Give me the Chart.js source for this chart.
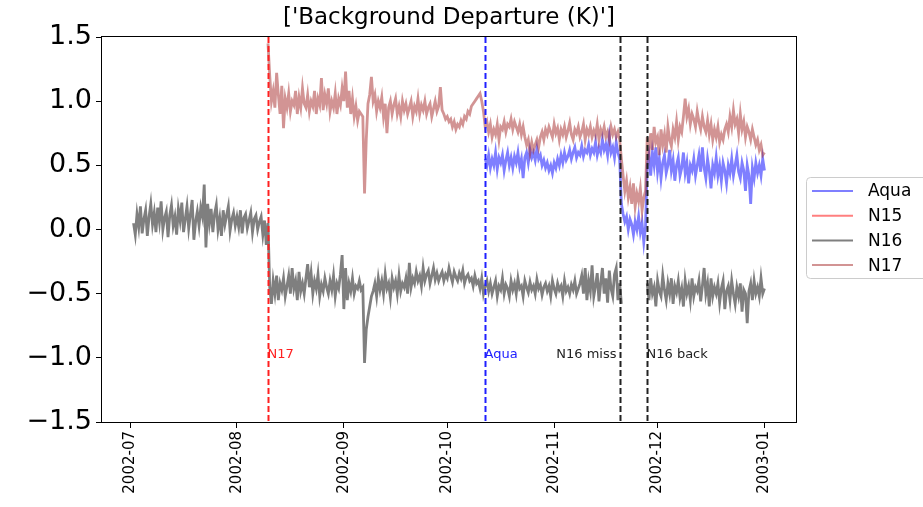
<!DOCTYPE html>
<html>
<head>
<meta charset="utf-8">
<script src="https://cdn.jsdelivr.net/npm/chart.js@4.4.0/dist/chart.umd.min.js"></script>
<style>
  body { margin: 0; background: #fff; }
</style>
</head>
<body>
<canvas id="chart" width="923" height="507"></canvas>
<script>
const titleText = "['Background Departure (K)']";
const monthLabels = ['2002-07', '2002-08', '2002-09', '2002-10', '2002-11', '2002-12', '2003-01'];
const yTicks = [-1.5, -1.0, -0.5, 0.0, 0.5, 1.0, 1.5];

// 12-hourly values, first value at 00Z on the start date (null = no data)
const stepDays = 0.5;

const n16Start = '2002-07-02';
const n16Values = [
  0.05, -0.04, 0.12, 0.02, 0.18, -0.03, 0.08, 0.15, -0.05, 0.1, 0.2, 0.04, 0.13, -0.02, 0.17, 0.06, 0.22, 0.0, 0.09, 0.14,
  -0.06, 0.11, 0.19, 0.03, 0.1, -0.04, 0.16, 0.07, 0.21, -0.02, 0.08, 0.18, 0.01, 0.12, 0.23, -0.08, 0.06, 0.14, 0.03, 0.17,
  0.1, 0.35, -0.14, 0.2, 0.05, 0.16, -0.02, 0.12, 0.19, 0.0, 0.09, -0.05, 0.15, 0.04, 0.11, 0.18, -0.01, 0.08, 0.13, 0.03,
  0.1, 0.02, 0.15, -0.03, 0.09, 0.12, 0.01, 0.07, 0.13, -0.02, 0.08, 0.11, 0.0, 0.06, 0.1, -0.04, 0.07, -0.12, 0.05, -0.45,
  -0.58, -0.4, -0.5, -0.36, -0.55, -0.42, -0.47, -0.38, -0.52, -0.44, -0.36, -0.5, -0.3, -0.46, -0.4, -0.55, -0.33, -0.48, -0.42, -0.5,
  -0.38, -0.27, -0.45, -0.34, -0.5, -0.4, -0.46, -0.35, -0.52, -0.43, -0.48, -0.38, -0.45, -0.5, -0.4, -0.47, -0.36, -0.52, -0.42, -0.46,
  -0.35, -0.2, -0.62, -0.3, -0.55, -0.42, -0.48, -0.38, -0.5, -0.44, -0.46, -0.4, -0.47, -0.45, -1.04, -0.78, -0.68, -0.6, -0.52, -0.48,
  -0.42, -0.52, -0.38, -0.47, -0.4, -0.5, -0.35, -0.46, -0.42, -0.53, -0.38, -0.45, -0.4, -0.5, -0.36, -0.48, -0.42, -0.45, -0.38, -0.5,
  -0.26, -0.45, -0.38, -0.42, -0.33, -0.4, -0.36, -0.44, -0.3, -0.4, -0.35, -0.32, -0.42, -0.36, -0.3, -0.39, -0.34, -0.4, -0.36, -0.33,
  -0.4, -0.35, -0.38, -0.3, -0.36, -0.41, -0.33, -0.37, -0.4, -0.34, -0.38, -0.32, -0.42, -0.37, -0.35, -0.4, -0.38, -0.44, -0.36, -0.42,
  -0.4, -0.46, -0.38, -0.5, -0.44, -0.4, -0.48, -0.42, -0.5, -0.45, -0.4, -0.52, -0.44, -0.47, -0.38, -0.5, -0.43, -0.46, -0.52, -0.4,
  -0.47, -0.42, -0.5, -0.38, -0.46, -0.44, -0.52, -0.4, -0.45, -0.49, -0.41, -0.47, -0.44, -0.5, -0.39, -0.46, -0.43, -0.51, -0.45, -0.42,
  -0.48, -0.44, -0.52, -0.4, -0.46, -0.5, -0.42, -0.47, -0.44, -0.52, -0.4, -0.48, -0.45, -0.5, -0.43, -0.47, -0.4, -0.5, -0.46, -0.42,
  -0.36, -0.5, -0.3, -0.55, -0.4, -0.48, -0.28, -0.52, -0.44, -0.34, -0.56, -0.42, -0.3, -0.5, -0.38, -0.57, -0.32, -0.46, -0.52, -0.35,
  -0.3, -0.55, -0.42, -0.58,
  null, null, null, null, null, null, null, null, null, null, null, null, null, null,
  -0.42, -0.55, -0.38, -0.5, -0.45, -0.6, -0.4, -0.48, -0.52, -0.36, -0.47, -0.55, -0.42, -0.5, -0.38, -0.58, -0.44, -0.49, -0.4, -0.53,
  -0.46, -0.6, -0.4, -0.5, -0.44, -0.55, -0.38, -0.52, -0.45, -0.48, -0.4, -0.56, -0.44, -0.3, -0.5, -0.42, -0.6, -0.38, -0.52, -0.45,
  -0.5, -0.42, -0.57, -0.46, -0.4, -0.62, -0.48, -0.44, -0.55, -0.4, -0.5, -0.58, -0.45, -0.52, -0.42, -0.64, -0.47, -0.5, -0.73, -0.48,
  -0.42, -0.55, -0.4, -0.5, -0.45, -0.52, -0.38, -0.5, -0.46
];

const n17Start = '2002-08-10';
const n17Values = [
  1.45, 1.2,
  1.0, 1.08, 0.95, 1.22, 1.05, 0.9, 1.12, 0.79, 1.02, 0.95, 1.06, 0.92, 1.0, 0.97, 1.08, 0.9, 1.03, 0.95, 1.1, 0.98,
  0.95, 1.05, 0.92, 1.0, 0.96, 1.08, 0.9, 1.02, 0.97, 1.18, 0.93, 1.05, 0.98, 1.1, 0.92, 1.0, 0.95, 1.06, 0.9, 1.02,
  0.97, 1.1, 1.0, 1.23, 0.95, 1.08, 0.9, 1.02, 0.88, 0.96, 0.85, 0.92, 0.9, 0.88, 0.28, 0.7, 0.98, 1.05, 1.19, 1.0,
  1.05, 0.92, 1.0, 0.95, 1.03, 0.88, 0.98, 0.75, 0.95, 1.0, 0.9, 0.97, 1.02, 0.9, 0.96, 0.88, 1.0, 0.93, 0.98, 0.9,
  0.95, 1.0, 0.88, 0.96, 0.92, 1.02, 0.9, 0.97, 0.93, 1.0, 0.9, 0.95, 0.98, 0.88, 0.94, 1.0, 0.92, 0.96, 1.11, 0.93,
  0.9, 0.86, 0.88, 0.84, 0.86, 0.8, 0.84, 0.78, 0.82, 0.8, 0.85, 0.82, 0.88, 0.86, 0.92, 0.9, 0.96, 0.98, 1.0, 1.02,
  1.04, 1.06, 1.0, 0.92, 0.8, 0.84, 0.76, 0.82, 0.72, 0.78, 0.74, 0.82, 0.7, 0.8, 0.78, 0.84, 0.76, 0.82, 0.8, 0.86,
  0.78, 0.84, 0.8, 0.76, 0.82, 0.74, 0.8, 0.72, 0.66, 0.7, 0.6, 0.68, 0.62, 0.66, 0.7, 0.64, 0.72, 0.76, 0.7, 0.78,
  0.74, 0.8, 0.76, 0.72, 0.82, 0.75, 0.79, 0.7, 0.78, 0.74, 0.8, 0.72, 0.77, 0.83, 0.74, 0.7, 0.78, 0.75, 0.8, 0.72,
  0.76, 0.82, 0.7, 0.78, 0.74, 0.8, 0.72, 0.77, 0.73, 0.82, 0.7, 0.78, 0.74, 0.8, 0.72, 0.76, 0.7, 0.8, 0.74, 0.78,
  0.72, 0.76, 0.7, 0.55, 0.42, 0.3, 0.38, 0.25, 0.33, 0.2, 0.36, 0.18, 0.28, 0.22, 0.32, 0.15, 0.25, 0.3, 0.72, 0.6,
  0.75, 0.62, 0.8, 0.68, 0.72, 0.58, 0.78, 0.66, 0.74, 0.6, 0.8, 0.7, 0.65, 0.78, 0.72, 0.84, 0.7, 0.8, 0.76, 0.88,
  1.02, 0.88, 0.94, 0.82, 0.9, 0.86, 0.8, 0.92, 0.84, 0.78, 0.88, 0.8, 0.76, 0.85, 0.74, 0.82, 0.7, 0.78, 0.72, 0.8,
  0.68, 0.74, 0.7, 0.78, 0.82, 0.76, 0.88, 0.8, 0.93, 0.82, 0.86, 0.75, 0.9, 0.78, 0.84, 0.72, 0.8, 0.76, 0.7, 0.78,
  0.72, 0.66, 0.7, 0.62, 0.66, 0.58, 0.6
];

const aquaStart = '2002-10-12';
const aquaValues = [
  0.55, 0.5,
  0.58, 0.48, 0.55, 0.5, 0.6, 0.47, 0.56, 0.52, 0.58, 0.46, 0.54, 0.6, 0.5, 0.56, 0.48, 0.57, 0.52, 0.6, 0.49, 0.55,
  0.4, 0.56, 0.6, 0.52, 0.62, 0.56, 0.6, 0.54, 0.63, 0.55, 0.58, 0.5, 0.54, 0.48, 0.52, 0.46, 0.5, 0.44, 0.52, 0.48,
  0.55, 0.5, 0.58, 0.52, 0.6, 0.54, 0.57, 0.62, 0.55, 0.6, 0.64, 0.56, 0.6, 0.58, 0.65, 0.57, 0.62, 0.6, 0.66, 0.58,
  0.63, 0.6, 0.68, 0.58, 0.64, 0.6, 0.7, 0.62, 0.66, 0.58, 0.72, 0.6, 0.64, 0.56, 0.68, 0.6, 0.55, 0.2, 0.12, 0.06,
  0.1, 0.0, 0.08, 0.04, -0.04, 0.06, 0.0, 0.1, -0.02, 0.05, -0.1, 0.02, 0.5, 0.58, 0.42, 0.6, 0.5, 0.64, 0.45, 0.55,
  0.4, 0.52, 0.58, 0.44, 0.5, 0.62, 0.46, 0.54, 0.38, 0.5, 0.56, 0.42, 0.48, 0.6, 0.44, 0.52, 0.36, 0.5, 0.46, 0.55,
  0.42, 0.5, 0.58, 0.45, 0.64, 0.48, 0.4, 0.55, 0.46, 0.32, 0.5, 0.44, 0.56, 0.42, 0.5, 0.38, 0.52, 0.46, 0.36, 0.5,
  0.44, 0.55, 0.42, 0.5, 0.58, 0.45, 0.4, 0.52, 0.46, 0.3, 0.5, 0.42, 0.2, 0.48, 0.4, 0.52, 0.44, 0.5, 0.42, 0.55,
  0.46
];

// satellite events: vertical dashed lines + labels at y = -1.0
const eventDates = ['2002-08-10', '2002-10-12', '2002-11-20', '2002-11-28'];
const eventLabels = ['N17', 'Aqua', 'N16 miss', 'N16 back'];
const eventColors = ['#ff2020', '#2020ff', '#222222', '#222222'];
const eventAlign = ['left', 'left', 'right', 'left'];

const DAY = 86400000;
const origin = Date.UTC(2002, 6, 1);
const toDay = s => (Date.parse(s + 'T00:00:00Z') - origin) / DAY;

function series(start, values) {
  const d0 = toDay(start);
  return values.map((v, i) => ({ x: d0 + i * stepDays, y: v }));
}

const monthDays = monthLabels.map(m => toDay(m + '-01'));
const firstDay = toDay(n16Start);
const lastDay = firstDay + (n16Values.length - 1) * stepDays;
const span = lastDay - firstDay;
const xMin = firstDay - 0.05 * span;
const xMax = lastDay + 0.05 * span;

const fmtY = v => (v < 0 ? '\u2212' : '') + Math.abs(v).toFixed(1);

const extras = {
  id: 'extras',
  afterDatasetsDraw(chart) {
    const { ctx, chartArea: a, scales } = chart;
    ctx.save();
    ctx.setLineDash([6, 3]);
    ctx.lineWidth = 2;
    eventDates.forEach((d, i) => {
      const x = Math.round(scales.x.getPixelForValue(toDay(d))) + 0.5;
      ctx.strokeStyle = eventColors[i];
      ctx.beginPath();
      ctx.moveTo(x, a.top);
      ctx.lineTo(x, a.bottom);
      ctx.stroke();
      ctx.fillStyle = eventColors[i];
      ctx.font = '13px "DejaVu Sans"';
      ctx.textAlign = eventAlign[i];
      ctx.textBaseline = 'alphabetic';
      const tx = eventAlign[i] === 'right' ? x - 4 : x - 1;
      ctx.fillText(eventLabels[i], tx, scales.y.getPixelForValue(-1.0));
    });
    ctx.restore();
  },
  afterDraw(chart) {
    const { ctx, chartArea: a } = chart;
    ctx.save();
    // axes frame
    ctx.strokeStyle = '#000';
    ctx.lineWidth = 1;
    ctx.strokeRect(a.left - 0.5, a.top - 0.5, a.right - a.left + 1, a.bottom - a.top + 1);
    // title
    ctx.fillStyle = '#000';
    ctx.font = '23px "DejaVu Sans"';
    ctx.textAlign = 'center';
    ctx.textBaseline = 'middle';
    ctx.fillText(titleText, (a.left + a.right) / 2, 18);
    // legend
    const lx = 806, ly = 177, lw = 130, lh = 101;
    ctx.beginPath();
    ctx.roundRect(lx + 0.5, ly + 0.5, lw, lh, 4);
    ctx.fillStyle = 'rgba(255,255,255,0.8)';
    ctx.fill();
    ctx.strokeStyle = '#cccccc';
    ctx.stroke();
    ctx.font = '17px "DejaVu Sans"';
    ctx.textAlign = 'left';
    ctx.textBaseline = 'middle';
    chart.data.datasets.forEach((ds, i) => {
      const y = ly + 14 + i * 24.7;
      ctx.strokeStyle = ds.borderColor;
      ctx.lineWidth = 2;
      ctx.beginPath();
      ctx.moveTo(812, y);
      ctx.lineTo(853, y);
      ctx.stroke();
      ctx.fillStyle = '#000';
      ctx.fillText(ds.label, 868, y + 1);
    });
    ctx.restore();
  }
};

const lineStyle = {
  borderWidth: 2.8,
  pointRadius: 0,
  tension: 0,
  fill: false,
  spanGaps: false
};

new Chart(document.getElementById('chart'), {
  type: 'line',
  data: {
    datasets: [
      { label: 'Aqua', data: series(aquaStart, aquaValues), borderColor: 'rgba(0,0,255,0.5)', order: 4, ...lineStyle },
      { label: 'N15', data: [], borderColor: 'rgba(255,0,0,0.5)', order: 3, ...lineStyle },
      { label: 'N16', data: series(n16Start, n16Values), borderColor: 'rgba(0,0,0,0.5)', order: 2, ...lineStyle },
      { label: 'N17', data: series(n17Start, n17Values), borderColor: 'rgba(165,42,42,0.5)', order: 1, ...lineStyle }
    ]
  },
  options: {
    responsive: false,
    animation: false,
    layout: { padding: { left: 0, top: 37, right: 127, bottom: 0 } },
    plugins: {
      legend: { display: false },
      title: { display: false },
      tooltip: { enabled: false }
    },
    scales: {
      x: {
        type: 'linear',
        min: xMin,
        max: xMax,
        afterBuildTicks(scale) {
          scale.ticks = monthDays.map(v => ({ value: v }));
        },
        afterFit(scale) { scale.height = 85; },
        ticks: {
          autoSkip: false,
          minRotation: 90,
          maxRotation: 90,
          padding: 3,
          color: '#000',
          font: { family: 'DejaVu Sans', size: 15 },
          callback: (v, i) => monthLabels[i]
        },
        grid: { drawOnChartArea: false, tickLength: 6, color: '#000' },
        border: { display: false }
      },
      y: {
        min: -1.5,
        max: 1.5,
        afterBuildTicks(scale) {
          scale.ticks = yTicks.map(v => ({ value: v }));
        },
        afterFit(scale) { scale.width = 102; },
        ticks: {
          padding: 4,
          color: '#000',
          font: { family: 'DejaVu Sans', size: 27 },
          callback: v => fmtY(v)
        },
        grid: { drawOnChartArea: false, tickLength: 6, color: '#000' },
        border: { display: false }
      }
    }
  },
  plugins: [extras]
});
</script>
</body>
</html>
